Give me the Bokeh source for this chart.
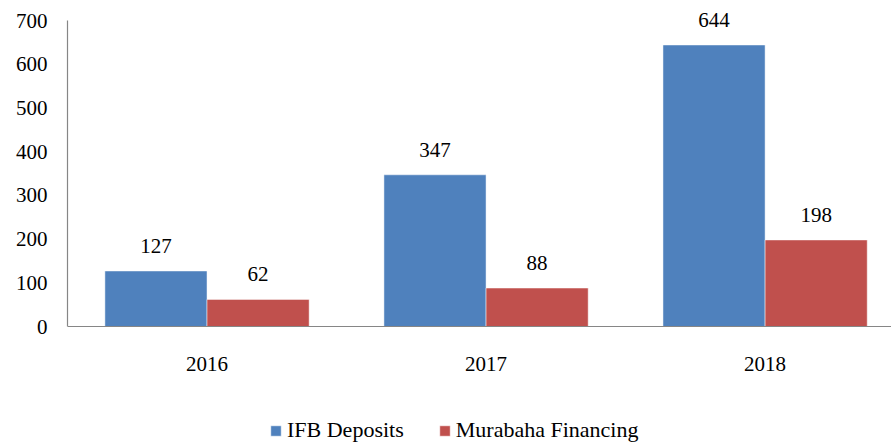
import numpy as np
from bokeh.plotting import figure
from bokeh.models import Range1d, FixedTicker, Legend, LegendItem, ColumnDataSource, Span
from bokeh.core.properties import value
from bokeh.embed import file_html
from bokeh.resources import INLINE

years = ["2016", "2017", "2018"]
ifb_deposits = [127, 347, 644]
murabaha_financing = [62, 88, 198]
y_ticks = [0, 100, 200, 300, 400, 500, 600, 700]

FONT = "Liberation Serif"
BLUE = "#4F81BD"
RED = "#C0504D"
AXIS = "#868686"

centers = np.arange(len(years)) + 0.5
bar_w = 0.366
off = bar_w / 2

# 700 units span 306 px; the frame reaches 12 px above 700 and 117 px below 0
px = 306 / 700
y_start = -117 / px
y_end = 700 + 12 / px

p = figure(width=891, height=443, output_backend="svg", toolbar_location=None,
           x_range=Range1d(0, 2.953), y_range=Range1d(y_start, y_end),
           x_axis_location=None,
           min_border_left=67, min_border_right=0, min_border_top=8, min_border_bottom=0)
p.outline_line_color = None
p.xgrid.visible = False
p.ygrid.visible = False

src_b = ColumnDataSource(dict(x=centers - off, top=ifb_deposits, lab=[str(v) for v in ifb_deposits]))
src_r = ColumnDataSource(dict(x=centers + off, top=murabaha_financing, lab=[str(v) for v in murabaha_financing]))
src_x = ColumnDataSource(dict(x=centers, y=[0] * len(years), lab=years))

rb = p.vbar(x="x", top="top", width=bar_w, bottom=0, source=src_b, fill_color=BLUE,
            line_color="white", line_alpha=0.6, line_width=0.8)
rr = p.vbar(x="x", top="top", width=bar_w, bottom=0, source=src_r, fill_color=RED,
            line_color="white", line_alpha=0.6, line_width=0.8)

for s in (src_b, src_r):
    p.text(x="x", y="top", text="lab", source=s, text_align="center", text_baseline="alphabetic",
           y_offset=-25, text_font=value(FONT), text_font_size="21px", text_color="#000000")

# category axis line and labels
p.add_layout(Span(location=0, dimension="width", line_color=AXIS, line_width=1.2))
p.text(x="x", y="y", text="lab", source=src_x, text_align="center", text_baseline="alphabetic",
       y_offset=37, text_font=value(FONT), text_font_size="21px", text_color="#000000")

ax = p.yaxis[0]
ax.axis_line_color = AXIS
ax.axis_line_width = 1.2
ax.major_tick_line_color = None
ax.minor_tick_line_color = None
ax.major_tick_out = 0
ax.major_tick_in = 0
ax.major_label_text_font = FONT
ax.major_label_text_font_size = "21px"
ax.major_label_text_color = "#000000"
ax.ticker = FixedTicker(ticks=y_ticks)
ax.bounds = (0, 700)
ax.major_label_standoff = 20

legend = Legend(items=[LegendItem(label="IFB Deposits", renderers=[rb]),
                       LegendItem(label="Murabaha Financing", renderers=[rr])],
                orientation="horizontal", location=(202, 0),
                glyph_width=13, glyph_height=13, label_standoff=5, spacing=34,
                padding=0, margin=0, border_line_color=None, background_fill_alpha=0,
                label_text_font=FONT, label_text_font_size="22px", label_text_color="#000000")
p.add_layout(legend, "center")

open("out.html", "w").write(file_html(p, INLINE))
